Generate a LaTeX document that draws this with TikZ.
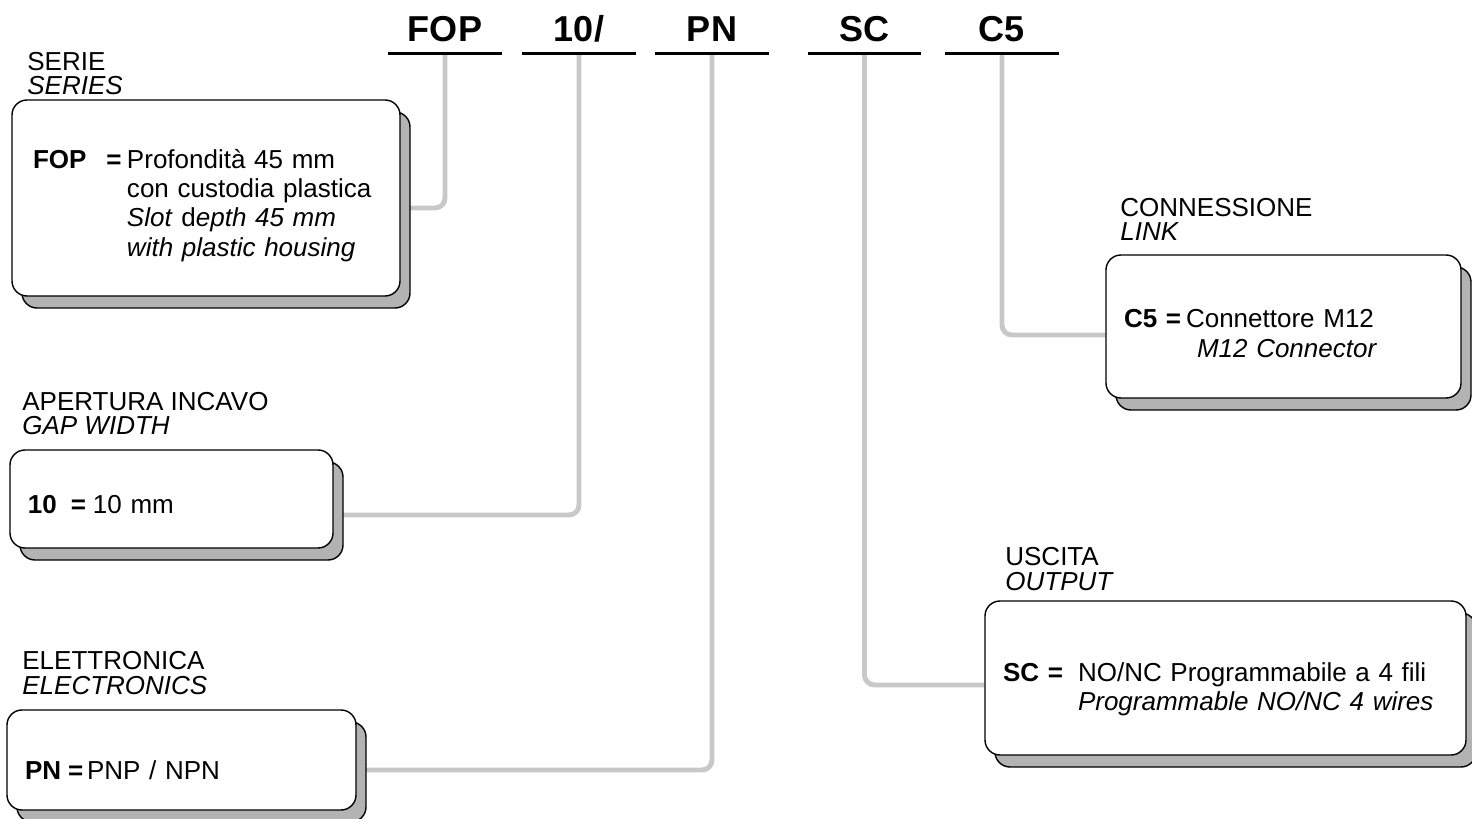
\documentclass[tikz,border=0pt]{standalone}
\usepackage{fontspec}
\setmainfont{Liberation Sans}
\usetikzlibrary{shadows, backgrounds, positioning}
\definecolor{linkgray}{RGB}{200, 200, 200}
\definecolor{shadegray}{RGB}{179, 179, 179}

\begin{document}
\begin{tikzpicture}[
  code/.style={font=\bfseries\fontsize{20.5}{24}\selectfont, minimum width=2.26cm, inner xsep=0pt, inner ysep=0.22cm, text depth=0pt, anchor=base},
  codeline/.style={line width=1.4pt},
  lbl/.style={font=\fontsize{14.8}{14.2}\selectfont, align=left, anchor=base west, inner sep=0pt},
  infobox/.style={draw=black, line width=0.8pt, fill=white, rounded corners=0.3cm, align=left, inner xsep=0.36cm, font=\fontsize{14.8}{16.7}\selectfont,
    drop shadow={shadow xshift=0.2cm, shadow yshift=-0.24cm, fill=shadegray, draw=black, opacity=1}},
  link/.style={linkgray, line width=2.8pt, rounded corners=0.2cm}
]
  \useasboundingbox (0, 0) rectangle (29.44, 16.36);

  % Code fields
  \node[code] (fop) at (8.90, 15.52) {FOP};
  \node[code] (ten) at (11.58, 15.52) {10/};
  \node[code] (pn) at (14.24, 15.52) {PN};
  \node[code] (sc) at (17.29, 15.52) {SC};
  \node[code] (cfive) at (20.04, 15.52) {C5};
  \foreach \n in {fop, ten, pn, sc, cfive}
    \draw[codeline] (\n.south west) -- (\n.south east);

  % Captions (base = last line)
  \node[lbl] (serielbl) at (0.54, 14.46) {SERIE\\\textit{SERIES}};
  \node[lbl] (gaplbl) at (0.44, 7.66) {APERTURA INCAVO\\\textit{GAP WIDTH}};
  \node[lbl] (eleclbl) at (0.44, 2.48) {ELETTRONICA\\\textit{ELECTRONICS}};
  \node[lbl] (linklbl) at (22.40, 11.54) {CONNESSIONE\\\textit{LINK}};
  \node[lbl] (outlbl) at (20.10, 4.56) {USCITA\\\textit{OUTPUT}};

  % Option boxes
  \node[infobox, inner xsep=0.42cm, minimum width=7.76cm, minimum height=3.92cm, text width=6.92cm] (seriebox) at (4.12, 12.40) {
    \rule{0pt}{0.68cm}\makebox[1.88cm][l]{\textbf{FOP}\hspace{0.4cm}\textbf{=}}Profondità 45 mm\\
    \hspace*{1.88cm}con custodia plastica\\
    \hspace*{1.88cm}\textit{Slot} d\textit{epth 45 mm}\\
    \hspace*{1.88cm}\textit{with plastic housing}
  };
  \node[infobox, minimum width=6.46cm, minimum height=1.96cm, text width=5.74cm] (gapbox) at (3.43, 6.38) {
    \rule{0pt}{0.6cm}\makebox[1.3cm][l]{\textbf{10}\hspace{0.28cm}\textbf{=}}10 mm
  };
  \node[infobox, minimum width=6.98cm, minimum height=2.0cm, text width=6.26cm] (elecbox) at (3.63, 1.16) {
    \rule{0pt}{0.78cm}\makebox[1.24cm][l]{\textbf{PN}\hspace{0.14cm}\textbf{=}}PNP / NPN
  };
  \node[infobox, minimum width=7.10cm, minimum height=2.86cm, text width=6.38cm] (linkbox) at (25.67, 9.83) {
    \rule{0pt}{0.64cm}\makebox[1.24cm][l]{\textbf{C5 =}}Connettore M12\\
    \hspace*{1.46cm}\textit{M12 Connector}
  };
  \node[infobox, minimum width=9.62cm, minimum height=3.08cm, text width=8.90cm] (outbox) at (24.51, 2.80) {
    \rule{0pt}{0.82cm}\makebox[1.5cm][l]{\textbf{SC =}}NO/NC Programmabile a 4 fili\\
    \hspace*{1.5cm}\textit{Programmable NO/NC 4 wires}
  };

  % Leader lines
  \begin{scope}[on background layer]
    \draw[link] (fop.south) |- ([yshift=-0.2cm]seriebox.east);
    \draw[link] (ten.south) |- ([yshift=-0.32cm]gapbox.east);
    \draw[link] (pn.south) |- ([yshift=-0.2cm]elecbox.east);
    \draw[link] (sc.south) |- ([yshift=-0.14cm]outbox.west);
    \draw[link] (cfive.south) |- ([yshift=-0.17cm]linkbox.west);
  \end{scope}
\end{tikzpicture}
\end{document}
